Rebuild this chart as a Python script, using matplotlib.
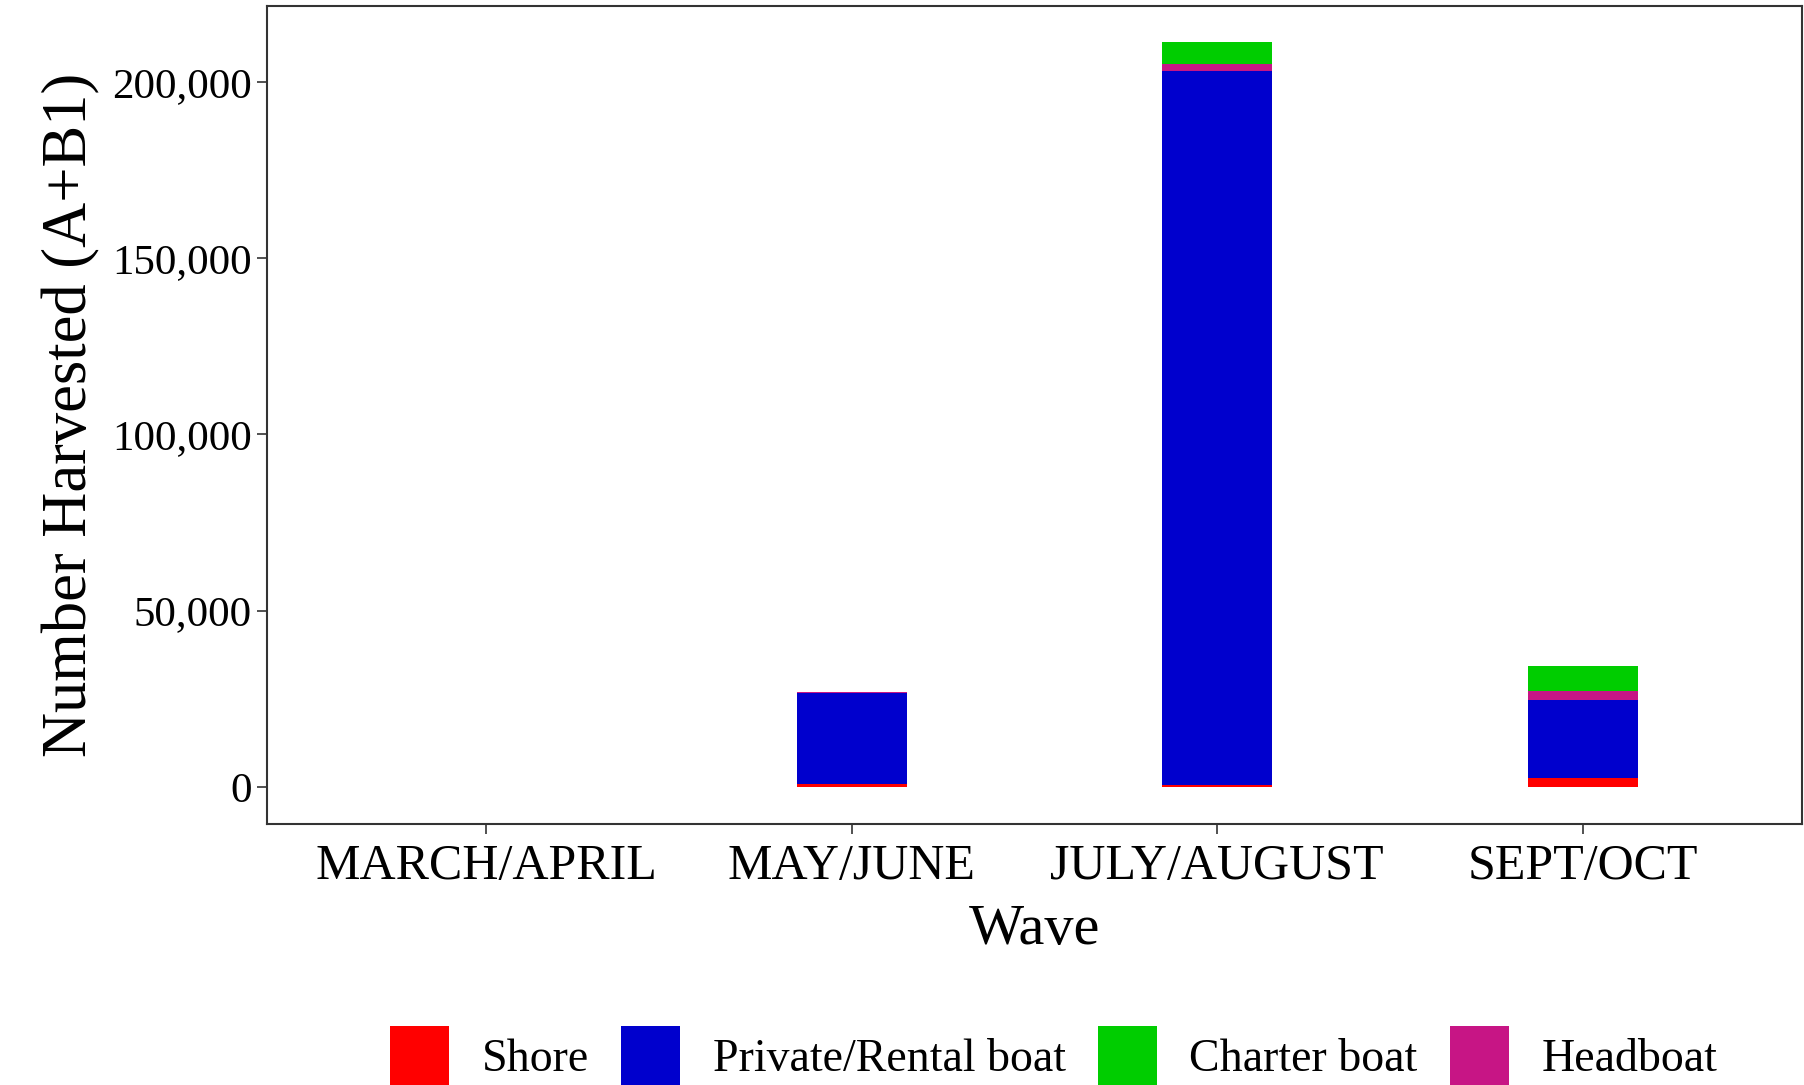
import numpy as np
import matplotlib
matplotlib.use("Agg")
import matplotlib.pyplot as plt
from matplotlib.ticker import FuncFormatter
from matplotlib.patches import Patch

# Harvest by wave and fishing mode
waves = ["MARCH/APRIL", "MAY/JUNE", "JULY/AUGUST", "SEPT/OCT"]
shore = [0, 700, 600, 2500]
private_rental = [0, 25900, 202400, 22200]
headboat = [0, 400, 2200, 2400]
charter = [0, 0, 6000, 7200]

colors = {"Shore": "#FF0000", "Private/Rental boat": "#0000CD",
          "Charter boat": "#00CD00", "Headboat": "#C71585"}

plt.rcParams['font.family'] = ['Liberation Serif', 'DejaVu Serif']

fig = plt.figure(figsize=(18.04, 10.85), dpi=100)
ax = fig.add_axes([0.148, 0.2406, 0.8509, 0.7539])

x = np.arange(len(waves))
w = 0.3
# stacking order bottom -> top: shore, private, headboat, charter
bottom = np.zeros(len(waves))
for name, vals in [("Shore", shore), ("Private/Rental boat", private_rental),
                   ("Headboat", headboat), ("Charter boat", charter)]:
    vals = np.array(vals, dtype=float)
    ax.bar(x, vals, w, bottom=bottom, color=colors[name], linewidth=0)
    bottom += vals

ax.set_xlim(-0.6, len(waves) - 0.4)
ax.set_ylim(-10550, 221550)
ax.set_yticks([0, 50000, 100000, 150000, 200000])
ax.yaxis.set_major_formatter(FuncFormatter(lambda v, p: f"{int(v):,}"))
ax.set_xticks(x)
ax.set_xticklabels(waves)

ax.tick_params(axis='y', labelsize=31, length=7, width=1.2, color='#333333', pad=4)
ax.tick_params(axis='x', labelsize=36, length=7, width=1.2, color='#333333', pad=7)
for s in ax.spines.values():
    s.set_color('#333333')
    s.set_linewidth(1.5)

ax.set_xlabel("Wave", fontsize=42, labelpad=10)
ax.set_ylabel("Number Harvested (A+B1)", fontsize=45, labelpad=8)

handles = [Patch(facecolor=colors[n], edgecolor='none', label=n)
           for n in ["Shore", "Private/Rental boat", "Charter boat", "Headboat"]]
fig.legend(handles=handles, loc='center', bbox_to_anchor=(0.584, 0.027),
           ncol=4, frameon=False, fontsize=33, handlelength=1.3,
           handleheight=1.6, handletextpad=0.7, columnspacing=0.7)

fig.savefig("out.png", dpi=100)
